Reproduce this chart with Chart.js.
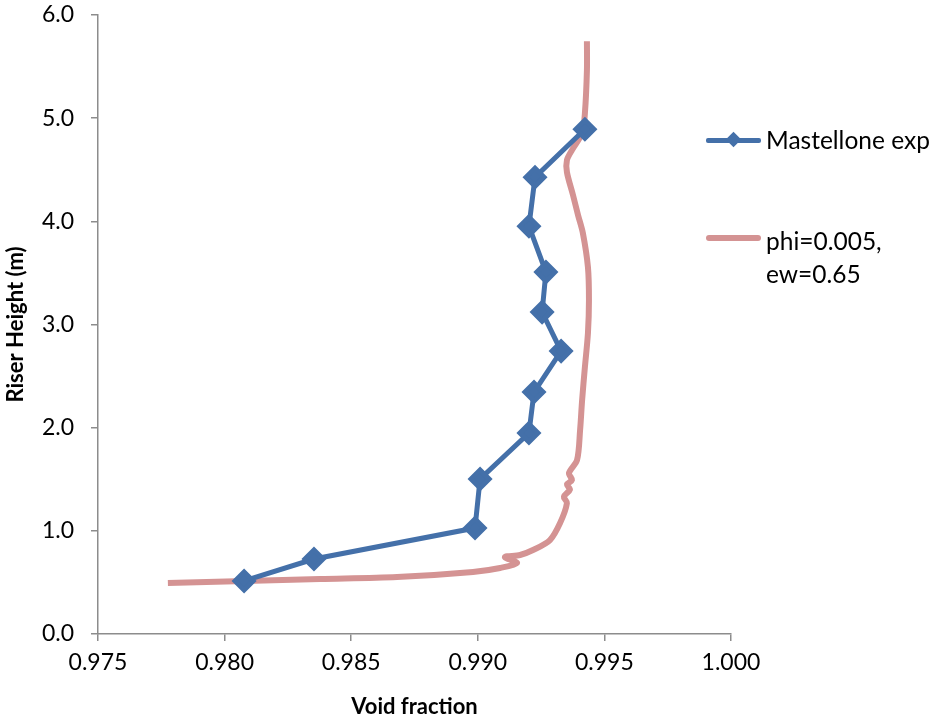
<!DOCTYPE html>
<html>
<head>
<meta charset="utf-8">
<script src="https://cdn.jsdelivr.net/npm/chart.js@4"></script>
<style>
  html, body { margin: 0; padding: 0; background: #fff; }
  #wrap { position: relative; width: 932px; height: 724px; overflow: hidden; }
  canvas { position: absolute; left: 0; top: 0; }
  .lg { position: absolute; font-family: Lato, "Open Sans", sans-serif; font-size: 24.5px; color: #000; white-space: nowrap; }
  .ln { position: absolute; }
</style>
</head>
<body>
<div id="wrap">
  <canvas id="c" width="932" height="724"></canvas>
  <div class="ln" style="left:706px; top:138px; width:55px; height:5px; background:#4470A9; border-radius:2px;"></div>
  <div class="ln" style="left:728px; top:134px; width:11px; height:11px; background:#4470A9; transform:rotate(45deg);"></div>
  <div class="lg" style="left:766px; top:124px; line-height:32px;">Mastellone exp</div>
  <div class="ln" style="left:706px; top:235px; width:55px; height:6px; background:#D49393; border-radius:3px;"></div>
  <div class="lg" style="left:766px; top:224px; line-height:33px;">phi=0.005,<br>ew=0.65</div>
</div>
<script>
// ---- data ----
const expVoid   = [0.98077, 0.98353, 0.98989, 0.99009, 0.99202, 0.99222, 0.99329, 0.99254, 0.99269, 0.99202, 0.99226, 0.99423];
const expHeight = [0.514, 0.727, 1.027, 1.502, 1.948, 2.345, 2.742, 3.120, 3.508, 3.953, 4.428, 4.893];

const simVoid   = [0.97776, 0.98081, 0.98377, 0.98681, 0.98981, 0.99088, 0.99155, 0.99107, 0.99167, 0.99218,
                   0.99285, 0.99325, 0.99352, 0.99340, 0.99364, 0.99352, 0.99372, 0.99360, 0.99392, 0.99404,
                   0.99412, 0.99423, 0.99435, 0.99439, 0.99435, 0.99415, 0.99396, 0.99376, 0.99352, 0.99352,
                   0.99372, 0.99412, 0.99423, 0.99431, 0.99431];
const simHeight = [0.494, 0.514, 0.533, 0.552, 0.601, 0.640, 0.688, 0.746, 0.766, 0.814,
                   0.911, 1.076, 1.269, 1.330, 1.400, 1.450, 1.492, 1.560, 1.686, 1.977,
                   2.267, 2.587, 2.917, 3.236, 3.556, 3.886, 4.060, 4.254, 4.477, 4.593,
                   4.690, 4.855, 5.048, 5.465, 5.746];

const xTicks = [0.975, 0.980, 0.985, 0.990, 0.995, 1.000];
const yTicks = [0.0, 1.0, 2.0, 3.0, 4.0, 5.0, 6.0];

const seriesNames = ["Mastellone exp", "phi=0.005, ew=0.65"];

// ---- chart ----
const toPts = (xs, ys) => xs.map((x, i) => ({ x: x, y: ys[i] }));
const font = { family: "Lato, 'Open Sans', sans-serif", size: 23 };
const axisColor = '#8c8c8c';

new Chart(document.getElementById('c'), {
  type: 'scatter',
  data: {
    datasets: [
      {
        label: seriesNames[1],
        data: toPts(simVoid, simHeight),
        showLine: true,
        borderColor: '#D49393',
        borderWidth: 6,
        pointRadius: 0,
        tension: 0.3,
        order: 2
      },
      {
        label: seriesNames[0],
        data: toPts(expVoid, expHeight),
        showLine: true,
        borderColor: '#4470A9',
        backgroundColor: '#4470A9',
        borderWidth: 5,
        pointStyle: 'rectRot',
        pointRadius: 9,
        pointHoverRadius: 9,
        tension: 0,
        order: 1
      }
    ]
  },
  options: {
    responsive: false,
    animation: false,
    layout: { padding: { left: 0, top: 15, right: 201, bottom: 0 } },
    plugins: { legend: { display: false }, tooltip: { enabled: false } },
    scales: {
      x: {
        type: 'linear',
        min: xTicks[0], max: xTicks[xTicks.length - 1],
        afterBuildTicks: s => { s.ticks = xTicks.map(v => ({ value: v })); },
        afterFit: s => { s.height = 90; s.paddingLeft = 0; s.paddingRight = 0; },
        ticks: { font: font, color: '#000', padding: 8, maxRotation: 0, callback: v => v.toFixed(3) },
        grid: { drawOnChartArea: false, drawTicks: true, tickLength: 7, color: axisColor, lineWidth: 1.5 },
        border: { display: true, color: axisColor, width: 1.5 },
        title: { display: true, text: 'Void fraction', color: '#000', font: { family: font.family, size: 22, weight: 'bold' }, padding: { top: 0, bottom: 4 } }
      },
      y: {
        type: 'linear',
        min: yTicks[0], max: yTicks[yTicks.length - 1],
        afterBuildTicks: s => { s.ticks = yTicks.map(v => ({ value: v })); },
        afterFit: s => { s.width = 98; s.paddingTop = 0; s.paddingBottom = 0; },
        ticks: { font: font, color: '#000', padding: 17, callback: v => v.toFixed(1) },
        grid: { drawOnChartArea: false, drawTicks: true, tickLength: 7, color: axisColor, lineWidth: 1.5 },
        border: { display: true, color: axisColor, width: 1.5 },
        title: { display: true, text: 'Riser Height (m)', color: '#000', font: { family: font.family, size: 22, weight: 'bold' }, padding: { top: 3, bottom: 0 } }
      }
    }
  }
});
</script>
</body>
</html>
